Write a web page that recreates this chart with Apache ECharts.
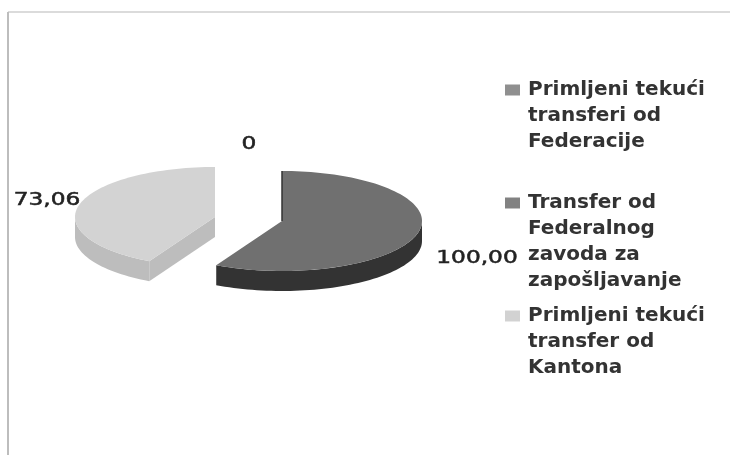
<!DOCTYPE html>
<html><head><meta charset="utf-8">
<style>html,body{margin:0;padding:0;background:#fff}#c{width:730px;height:455px;filter:blur(0.45px)}</style>
<script src="https://cdn.jsdelivr.net/npm/echarts@6/dist/echarts.min.js"></script>
</head><body><div id="c"></div>
<script>
const categories = ["Primljeni tekući\ntransferi od\nFederacije", "Transfer od\nFederalnog\nzavoda za\nzapošljavanje", "Primljeni tekući\ntransfer od\nKantona"];
const values = [0, 100, 73.06];
const valueLabels = ["0", "100,00", "73,06"];
const swatchColors = ["#8f8f8f", "#828282", "#d2d2d2"];
const topColors = ["#8f8f8f", "#707070", "#d3d3d3"];
const sideColors = ["#555555", "#333333", "#bdbdbd"];

const total = values.reduce((a, b) => a + b, 0);
const centers = [[249, 200], [282, 221], [215, 217]];
const labelAt = [[249, 145], [477, 259], [47, 201]];
const legendTops = [20, 107, 246];
const RX = 140, RY = 50, DEPTH = 20, STRETCH = 1.37;

function pt(c, deg, dy) {
  const a = deg * Math.PI / 180;
  return [c[0] + RX * Math.sin(a), c[1] - RY * Math.cos(a) + (dy || 0)];
}
function arc(c, from, to, dy) {
  const out = [];
  const n = Math.max(2, Math.ceil(Math.abs(to - from) / 2));
  for (let i = 0; i <= n; i++) out.push(pt(c, from + (to - from) * i / n, dy));
  return out;
}
function sliceSeries(idx) {
  let start = 0;
  for (let i = 0; i < idx; i++) start += values[i] / total * 360;
  const end = start + values[idx] / total * 360;
  return {
    type: 'custom', name: categories[idx], coordinateSystem: 'none',
    silent: true, animation: false, z: 2 + idx,
    itemStyle: { color: swatchColors[idx] },
    data: [values[idx]],
    renderItem(params, api) {
      const c = centers[idx], ch = [];
      if (api.value(0) > 0) {
        const a = Math.max(start, 90), b = Math.min(end, 270);
        if (b > a) {
          const up = arc(c, a, b, 0), dn = arc(c, b, a, DEPTH);
          ch.push({ type: 'polygon', shape: { points: up.concat(dn) }, style: { fill: sideColors[idx] } });
        }
        if (start > 90 && start < 270) {
          const p = pt(c, start, 0);
          ch.push({ type: 'polygon', shape: { points: [c, p, [p[0], p[1] + DEPTH], [c[0], c[1] + DEPTH]] }, style: { fill: sideColors[idx] } });
        }
        ch.push({ type: 'polygon', shape: { points: [c].concat(arc(c, start, end, 0)) }, style: { fill: topColors[idx] } });
        if (start < 90) {
          ch.push({ type: 'polyline', shape: { points: [c, pt(c, start, 0)] }, style: { stroke: sideColors[idx], lineWidth: 1.5, fill: 'none' } });
        }
      }
      ch.push({
        type: 'text', x: labelAt[idx][0], y: labelAt[idx][1], scaleX: STRETCH,
        style: { text: valueLabels[idx], font: '17px "DejaVu Sans"', fill: '#222222', stroke: '#222222', lineWidth: 0.5, align: 'center', verticalAlign: 'middle' }
      });
      return { type: 'group', children: ch };
    }
  };
}
const chart = echarts.init(document.getElementById('c'));
chart.setOption({
  animation: false,
  backgroundColor: '#ffffff',
  legend: categories.map((name, i) => ({
    data: [name], left: 500, top: legendTops[i], orient: 'vertical', selectedMode: false,
    icon: 'rect', itemWidth: 15, itemHeight: 11, itemGap: 0,
    formatter: n => '\n'.repeat(n.split('\n').length - 1) + n,
    textStyle: { fontFamily: 'DejaVu Sans', fontWeight: 'bold', fontSize: 20, lineHeight: 26, color: '#333333', padding: [0, 0, 0, 3] }
  })),
  graphic: [
    { type: 'line', shape: { x1: 8, y1: 12, x2: 730, y2: 12 }, style: { stroke: '#cfcfcf', lineWidth: 1.5 } },
    { type: 'line', shape: { x1: 8, y1: 12, x2: 8, y2: 455 }, style: { stroke: '#bdbdbd', lineWidth: 2 } }
  ],
  series: categories.map((_, i) => sliceSeries(i))
});
</script></body></html>
